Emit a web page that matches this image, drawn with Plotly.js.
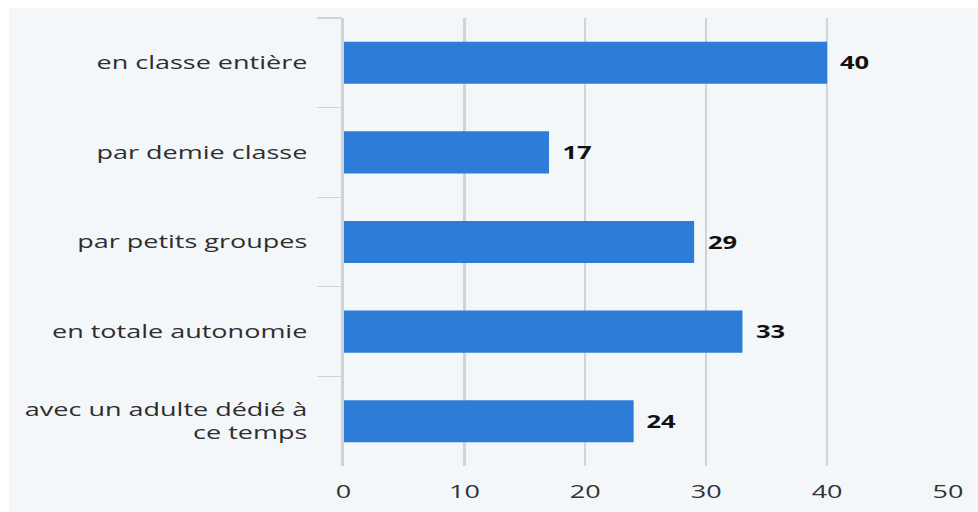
<!DOCTYPE html>
<html>
<head>
<meta charset="utf-8">
<script src="https://cdn.plot.ly/plotly-3.0.1.min.js"></script>
<style>
  html, body { margin: 0; padding: 0; background: #ffffff; overflow: hidden; }
  #chart { position: absolute; left: 9px; top: 8px; width: 646px; height: 504px;
           transform: scaleX(1.5); transform-origin: 0 0; }
</style>
</head>
<body>
<div id="chart"></div>
<script>
const categories = [
  "en classe entière",
  "par demie classe",
  "par petits groupes",
  "en totale autonomie",
  "avec un adulte dédié à<br>ce temps"
];
const values = [40, 17, 29, 33, 24];
const xTicks = [0, 10, 20, 30, 40, 50];

const bg = "#f4f7fa";
const barColor = "#2d7dd8";

const trace = {
  type: "bar",
  orientation: "h",
  x: values,
  y: categories,
  marker: { color: barColor, line: { width: 0 } },
  hoverinfo: "none"
};

const annotations = values.map((v, i) => ({
  x: v, y: categories[i], xref: "x", yref: "y",
  text: String(v), showarrow: false,
  xanchor: "left", yanchor: "middle", xshift: 7,
  font: { family: "Open Sans", size: 17, color: "#111111", weight: 700 }
}));

const layout = {
  width: 646, height: 504,
  margin: { l: 223, r: 20, t: 10, b: 46 },
  paper_bgcolor: bg,
  plot_bgcolor: bg,
  bargap: 0.53,
  showlegend: false,
  font: { family: "Open Sans", size: 18, color: "#2e2e2e" },
  xaxis: {
    range: [0, 50],
    tickvals: xTicks,
    ticktext: xTicks.map(String),
    showgrid: true, gridcolor: "#d0d3d7", gridwidth: 1.5,
    zeroline: false, showline: false, ticks: "",
    ticklabelstandoff: 13,
    tickfont: { family: "Open Sans", size: 18, color: "#333333" },
    fixedrange: true
  },
  yaxis: {
    autorange: "reversed",
    type: "category",
    showgrid: false, zeroline: false,
    showline: true, linecolor: "#cfd2d6", linewidth: 1.5,
    ticks: "outside", tickson: "boundaries", ticklen: 16,
    tickcolor: "#cfd2d6", tickwidth: 1.2,
    ticklabelstandoff: 19,
    tickfont: { family: "Open Sans", size: 18, color: "#2e2e2e" },
    fixedrange: true
  },
  annotations: annotations
};

Plotly.newPlot("chart", [trace], layout, { displayModeBar: false, staticPlot: true });
</script>
</body>
</html>
